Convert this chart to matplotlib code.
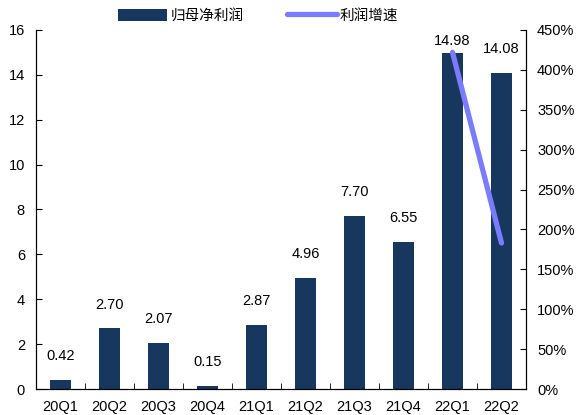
import numpy as np
import matplotlib.pyplot as plt

plt.rcParams['font.family'] = ['Liberation Sans', 'Noto Sans CJK SC', 'DejaVu Sans']

quarters = ['20Q1', '20Q2', '20Q3', '20Q4', '21Q1', '21Q2', '21Q3', '21Q4', '22Q1', '22Q2']
profit = [0.42, 2.70, 2.07, 0.15, 2.87, 4.96, 7.70, 6.55, 14.98, 14.08]
growth_q = ['22Q1', '22Q2']
growth = [422, 183]

BAR_COLOR = '#17375e'
LINE_COLOR = '#7b7bff'

fig = plt.figure(figsize=(5.77, 4.15), dpi=100)
ax = fig.add_axes([36 / 577, 1 - 389 / 415, 490 / 577, 359 / 415])
x = np.arange(len(quarters))
bars = ax.bar(x, profit, width=0.43, color=BAR_COLOR, label='归母净利润', zorder=2)
for xi, v in zip(x, profit):
    # labels near the top are squeezed down under the frame
    ax.text(xi, min(v + 0.75, 15.2), f'{v:.2f}', ha='center', va='bottom', fontsize=10.5)

ax.set_xlim(-0.5, len(quarters) - 0.5)
ax.set_ylim(0, 16)
ax.set_yticks(range(0, 17, 2))
ax.set_xticks(x)
ax.set_xticklabels(quarters)
ax.set_xticks(np.arange(-0.5, len(quarters)), minor=True)
ax.tick_params(axis='x', which='major', length=0, labelsize=10.5, pad=8)
ax.tick_params(axis='x', which='minor', direction='in', length=4)
ax.tick_params(axis='y', direction='in', length=4, labelsize=10.5, pad=8)
ax.spines['top'].set_visible(False)

ax2 = ax.twinx()
gx = [quarters.index(q) for q in growth_q]
ln, = ax2.plot(gx, growth, color=LINE_COLOR, lw=3.8, solid_capstyle='round', label='利润增速', zorder=3)
ax2.set_ylim(0, 450)
ax2.set_yticks(range(0, 451, 50))
ax2.set_yticklabels([f'{t}%' for t in range(0, 451, 50)])
ax2.tick_params(axis='y', direction='in', length=4, labelsize=10.5, pad=8)
ax2.spines['top'].set_visible(False)

fig.legend([bars, ln], ['归母净利润', '利润增速'], loc='center', bbox_to_anchor=(0.447, 0.962),
           ncol=2, frameon=False, fontsize=10.5, handlelength=3.4, handleheight=0.9,
           columnspacing=3.0, handletextpad=0.2)

fig.savefig('out.png', dpi=100)
